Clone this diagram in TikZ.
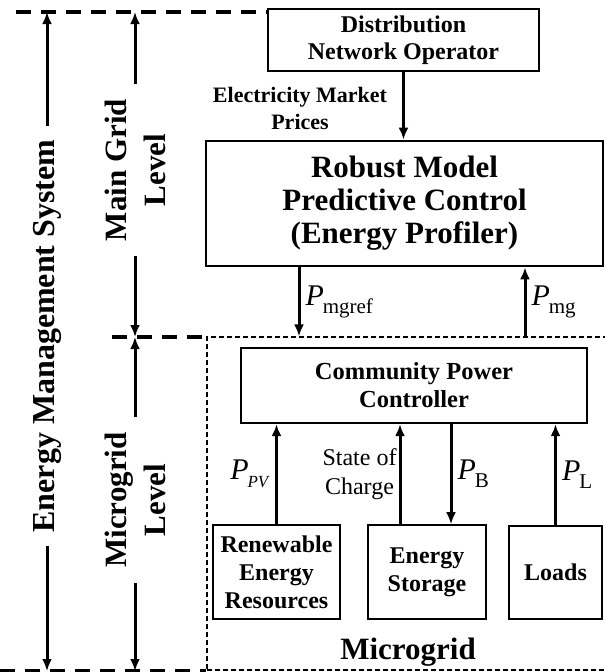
\documentclass[tikz,border=0pt]{standalone}
\usepackage{fontspec}
\setmainfont{Liberation Serif}
\usetikzlibrary{arrows.meta}
\newcommand{\fsz}[2]{\fontsize{#1}{#2}\selectfont}
\newcommand{\pflow}[2][21]{\textit{\fsz{30}{32}P}\kern-1pt\raisebox{-8pt}{\fsz{#1}{#1}#2}}

\begin{document}
\begin{tikzpicture}[x=1pt,y=-1pt,
  bigbox/.style={draw, line width=2.8pt, align=center, inner sep=0pt},
  unitbox/.style={draw, line width=1.6pt, align=center, inner sep=0pt, font=\fsz{24}{28}\bfseries},
  flow/.style={line width=3pt, -{Latex[length=12pt,width=10pt]}},
  levelline/.style={line width=3.5pt, dash pattern=on 15pt off 10pt},
  mgline/.style={line width=1.3pt, dash pattern=on 5pt off 3pt},
  sidelabel/.style={rotate=90, align=center, inner xsep=15pt, inner ysep=0pt, font=\fsz{31}{39}\bfseries},
  flowlabel/.style={inner sep=5pt}]
 \useasboundingbox (0,0) rectangle (605,672);
 % microgrid area (right side runs off the page)
 \node[mgline, draw, inner sep=0pt, minimum width=402pt, minimum height=333pt] (mgrid) at (408,503.5) {};
 \node[font=\fsz{31}{33}\bfseries] (mglabel) at (408,652) {Microgrid};
 % main grid level
 \node[bigbox, minimum width=271pt, minimum height=62pt, font=\fsz{24}{27}\bfseries] (dno) at (403.5,40) {Distribution\\Network Operator};
 \node[align=center, font=\fsz{22}{27}\bfseries] (price) at (300,108) {Electricity Market\\Prices};
 \node[bigbox, minimum width=397pt, minimum height=125pt, font=\fsz{31}{33}\bfseries] (rmpc) at (404.5,203.5) {Robust Model\\Predictive Control\\(Energy Profiler)};
 \draw[flow] (dno.south) -- (dno.south |- rmpc.north);
 \coordinate (refx) at (299,0);
 \coordinate (mgx) at (525,0);
 \draw[flow] (refx |- rmpc.south) -- node[right, flowlabel] {\pflow{mgref}} (refx |- mgrid.north);
 \draw[flow] (mgx |- mgrid.north) -- node[right, flowlabel] {\pflow{mg}} (mgx |- rmpc.south);
 % microgrid level
 \node[draw, line width=2.4pt, align=center, inner sep=0pt, minimum width=346pt, minimum height=75pt, font=\fsz{24.5}{28}\bfseries] (cpc) at (414,385.5) {Community Power\\Controller};
 \node[unitbox, minimum width=127pt, minimum height=94pt] (rer) at (276.5,572) {Renewable\\Energy\\Resources};
 \node[unitbox, minimum width=118pt, minimum height=94pt] (ess) at (427,572) {Energy\\Storage};
 \node[unitbox, minimum width=93pt, minimum height=93pt] (loads) at (555.5,572.5) {Loads};
 \draw[flow] (rer.north) -- node[left, flowlabel] {\pflow[17]{\textit{PV}}} (rer.north |- cpc.south);
 \draw[flow] ([xshift=-27pt]ess.north) -- node[left, inner sep=2pt, align=center, font=\fsz{24}{29}] {State of\\Charge} ([xshift=-27pt]ess.north |- cpc.south);
 \draw[flow] ([xshift=24pt]ess.north |- cpc.south) -- node[right, flowlabel] {\pflow{B}} ([xshift=24pt]ess.north);
 \draw[flow] (loads.north) -- node[right, flowlabel] {\pflow{L}} (loads.north |- cpc.south);
 % level boundaries
 \coordinate (ltop) at (16,12);
 \coordinate (lmid) at (112,337);
 \coordinate (lbot) at (0,671);
 \draw[levelline] (ltop) -- (ltop -| dno.west);
 \draw[levelline] (lmid) -- (lmid -| mgrid.west);
 \draw[levelline] (lbot) -- (lbot -| mgrid.west);
 % side labels
 \node[sidelabel, inner xsep=13pt, font=\fsz{32}{39}\bfseries] (ems) at (47,336) {Energy Management System};
 \node[sidelabel] (mainlvl) at (135,170) {Main Grid\\Level};
 \node[sidelabel] (mglvl) at (135,500) {Microgrid\\Level};
 \draw[flow] (ems.east) -- (ems.east |- ltop);
 \draw[flow] (ems.west) -- (ems.west |- lbot);
 \draw[flow] (mainlvl.east) -- (mainlvl.east |- ltop);
 \draw[flow] (mainlvl.west) -- (mainlvl.west |- lmid);
 \draw[flow] (mglvl.east) -- (mglvl.east |- lmid);
 \draw[flow] (mglvl.west) -- (mglvl.west |- lbot);
\end{tikzpicture}
\end{document}
